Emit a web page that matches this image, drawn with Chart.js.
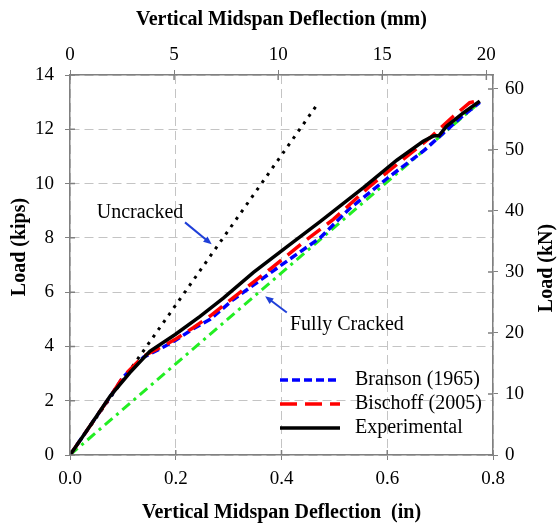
<!DOCTYPE html>
<html>
<head>
<meta charset="utf-8">
<script src="https://cdn.jsdelivr.net/npm/chart.js@4.4.0/dist/chart.umd.min.js"></script>
<style>
  html, body { margin: 0; padding: 0; background: #fff; }
  #wrap { width: 558px; height: 529px; }
</style>
</head>
<body>
<div id="wrap"><canvas id="chartDeflection" width="558" height="529"></canvas></div>
<script>
// Data: deflection (in) vs load (kips)
const expDefl = [0, 0.03, 0.076, 0.113, 0.151, 0.199, 0.246, 0.29, 0.347, 0.41, 0.473, 0.555, 0.618, 0.668, 0.687, 0.698, 0.712, 0.745, 0.775];
const expLoad = [0, 0.85, 2.17, 3.03, 3.82, 4.44, 5.11, 5.78, 6.73, 7.67, 8.6, 9.85, 10.86, 11.56, 11.75, 11.77, 12.11, 12.62, 13.04];

const bischoffDefl = [0, 0.03, 0.076, 0.101, 0.139, 0.176, 0.199, 0.233, 0.265, 0.309, 0.378, 0.448, 0.498, 0.567, 0.63, 0.681, 0.725, 0.756, 0.77];
const bischoffLoad = [0, 0.85, 2.15, 2.9, 3.64, 4.01, 4.26, 4.69, 5.12, 5.8, 6.84, 7.94, 8.68, 9.9, 10.89, 11.69, 12.48, 12.98, 13.05];

const bransonDefl = [0, 0.03, 0.076, 0.101, 0.139, 0.176, 0.199, 0.233, 0.265, 0.309, 0.397, 0.473, 0.53, 0.605, 0.668, 0.737, 0.775];
const bransonLoad = [0, 0.85, 2.15, 2.88, 3.6, 3.97, 4.22, 4.65, 5.0, 5.73, 6.96, 8.0, 9.1, 10.27, 11.19, 12.4, 12.99];

const uncrackedDefl = [0, 0.466];
const uncrackedLoad = [0, 12.87];

const crackedDefl = [0, 0.778];
const crackedLoad = [0, 13.05];

// Tick labels
const inTicks = [0, 0.2, 0.4, 0.6, 0.8];
const mmTicks = [0, 5, 10, 15, 20];
const kipTicks = [0, 2, 4, 6, 8, 10, 12, 14];
const knTicks = [0, 10, 20, 30, 40, 50, 60];

const toPoints = (xs, ys) => xs.map((x, i) => ({ x: x, y: ys[i] }));
const serif = "'Liberation Serif', 'Times New Roman', serif";

// Legend entries drawn inside the plot
const legendItems = [
  { label: "Branson (1965)", color: "#0000ff", dash: [8, 4], width: 3.5 },
  { label: "Bischoff (2005)", color: "#ff0000", dash: [17, 8], width: 3.5 },
  { label: "Experimental", color: "#000000", dash: [], width: 3.5 }
];

function arrow(ctx, x1, y1, x2, y2) {
  const ang = Math.atan2(y2 - y1, x2 - x1);
  ctx.strokeStyle = "#1f3fd8";
  ctx.fillStyle = "#1f3fd8";
  ctx.lineWidth = 2;
  ctx.setLineDash([]);
  ctx.beginPath();
  ctx.moveTo(x1, y1);
  ctx.lineTo(x2 - 6 * Math.cos(ang), y2 - 6 * Math.sin(ang));
  ctx.stroke();
  ctx.beginPath();
  ctx.moveTo(x2, y2);
  ctx.lineTo(x2 - 9 * Math.cos(ang - 0.4), y2 - 9 * Math.sin(ang - 0.4));
  ctx.lineTo(x2 - 9 * Math.cos(ang + 0.4), y2 - 9 * Math.sin(ang + 0.4));
  ctx.closePath();
  ctx.fill();
}

const extras = {
  id: "extras",
  afterDraw(chart) {
    const { ctx, scales, chartArea } = chart;
    const px = v => scales.x.getPixelForValue(v);
    const py = v => scales.y.getPixelForValue(v);
    ctx.save();

    // short inward tick marks, like the original axes
    ctx.strokeStyle = "#808080";
    ctx.lineWidth = 1.5;
    ctx.beginPath();
    kipTicks.forEach(v => { ctx.moveTo(chartArea.left, py(v)); ctx.lineTo(chartArea.left + 5, py(v)); });
    knTicks.forEach(v => { const y = scales.y2.getPixelForValue(v); ctx.moveTo(chartArea.right, y); ctx.lineTo(chartArea.right - 5, y); });
    inTicks.forEach(v => { ctx.moveTo(px(v), chartArea.bottom); ctx.lineTo(px(v), chartArea.bottom - 5); });
    mmTicks.forEach(v => { const x = scales.x2.getPixelForValue(v); ctx.moveTo(x, chartArea.top); ctx.lineTo(x, chartArea.top + 5); });
    ctx.stroke();

    // vertical axis titles (read bottom to top)
    ctx.fillStyle = "#000";
    ctx.font = "bold 20px " + serif;
    ctx.textAlign = "center";
    ctx.textBaseline = "middle";
    ctx.save();
    ctx.translate(20, 247);
    ctx.rotate(-Math.PI / 2);
    ctx.fillText("Load (kips)", 0, 0);
    ctx.restore();
    ctx.save();
    ctx.translate(547, 268);
    ctx.rotate(-Math.PI / 2);
    ctx.fillText("Load (kN)", 0, 0);
    ctx.restore();

    // annotations
    ctx.font = "20px " + serif;
    ctx.fillStyle = "#000";
    ctx.textAlign = "center";
    ctx.fillText("Uncracked", px(0.1324), py(8.93));
    arrow(ctx, px(0.2175), py(8.57), px(0.268), py(7.76));
    ctx.fillStyle = "#000";
    ctx.textAlign = "left";
    ctx.fillText("Fully Cracked", px(0.416), py(4.81));
    arrow(ctx, px(0.41), py(5.25), px(0.369), py(5.85));

    // legend
    ctx.textAlign = "left";
    ctx.font = "20px " + serif;
    const rows = [380, 404, 428];
    legendItems.forEach((it, i) => {
      ctx.strokeStyle = it.color;
      ctx.lineWidth = it.width;
      ctx.setLineDash(it.dash);
      ctx.beginPath();
      ctx.moveTo(280, rows[i]);
      ctx.lineTo(340, rows[i]);
      ctx.stroke();
      ctx.fillStyle = "#000";
      ctx.fillText(it.label, 355, rows[i]);
    });
    ctx.restore();
  }
};

const gridDash = { display: true, color: "#808080", width: 1.5, dash: [9, 5] };

new Chart(document.getElementById("chartDeflection"), {
  type: "scatter",
  data: {
    datasets: [
      {
        label: "Experimental",
        data: toPoints(expDefl, expLoad),
        borderColor: "#000000",
        borderWidth: 3.5,
        order: 1
      },
      {
        label: "Bischoff (2005)",
        data: toPoints(bischoffDefl, bischoffLoad),
        borderColor: "#ff0000",
        borderWidth: 3.5,
        borderDash: [17, 8],
        order: 2
      },
      {
        label: "Branson (1965)",
        data: toPoints(bransonDefl, bransonLoad),
        borderColor: "#0000ff",
        borderWidth: 3.5,
        borderDash: [8, 4],
        order: 3
      },
      {
        label: "Fully Cracked",
        data: toPoints(crackedDefl, crackedLoad),
        borderColor: "#22ee22",
        borderWidth: 3,
        borderDash: [10, 5, 3, 5],
        order: 4
      },
      {
        label: "Uncracked",
        data: toPoints(uncrackedDefl, uncrackedLoad),
        borderColor: "#000000",
        borderWidth: 3,
        borderDash: [3, 6],
        order: 5
      }
    ]
  },
  options: {
    responsive: false,
    animation: false,
    showLine: true,
    elements: { point: { radius: 0, hoverRadius: 0 }, line: { tension: 0, borderCapStyle: "butt" } },
    layout: { padding: 0 },
    scales: {
      x: {
        type: "linear",
        position: "bottom",
        min: 0,
        max: 0.8,
        afterBuildTicks: s => { s.ticks = inTicks.map(v => ({ value: v })); },
        afterFit: s => { s.height = 74; },
        grid: { color: "#c4c4c4", tickColor: "#808080", tickLength: 5 },
        border: gridDash,
        ticks: {
          color: "#000",
          font: { family: serif, size: 19 },
          padding: 8,
          maxRotation: 0,
          callback: v => v.toFixed(1)
        },
        title: {
          display: true,
          text: "Vertical Midspan Deflection  (in)",
          color: "#000",
          font: { family: serif, size: 20, weight: "bold" },
          padding: { top: 0, bottom: 4 }
        }
      },
      x2: {
        type: "linear",
        position: "top",
        min: 0,
        max: 0.8 * 25.4,
        afterBuildTicks: s => { s.ticks = mmTicks.map(v => ({ value: v })); },
        afterFit: s => { s.height = 75; },
        grid: { drawOnChartArea: false, tickColor: "#808080", tickLength: 5 },
        border: { display: true, color: "#808080", width: 1.5 },
        ticks: { color: "#000", font: { family: serif, size: 19 }, padding: 4, maxRotation: 0 },
        title: {
          display: true,
          text: "Vertical Midspan Deflection (mm)",
          color: "#000",
          font: { family: serif, size: 20, weight: "bold" },
          padding: { top: 8, bottom: 0 }
        }
      },
      y: {
        type: "linear",
        position: "left",
        min: 0,
        max: 14,
        afterBuildTicks: s => { s.ticks = kipTicks.map(v => ({ value: v })); },
        afterFit: s => { s.width = 70; },
        grid: { color: "#c4c4c4", tickColor: "#808080", tickLength: 5 },
        border: gridDash,
        ticks: { color: "#000", font: { family: serif, size: 19 }, padding: 11 }
      },
      y2: {
        type: "linear",
        position: "right",
        min: 0,
        max: 14 * 4.44822,
        afterBuildTicks: s => { s.ticks = knTicks.map(v => ({ value: v })); },
        afterFit: s => { s.width = 65; },
        grid: { drawOnChartArea: false, tickColor: "#808080", tickLength: 5 },
        border: { display: true, color: "#808080", width: 1.5 },
        ticks: { color: "#000", font: { family: serif, size: 19 }, padding: 7 }
      }
    },
    plugins: {
      legend: { display: false },
      tooltip: { enabled: false }
    }
  },
  plugins: [extras]
});
</script>
</body>
</html>
